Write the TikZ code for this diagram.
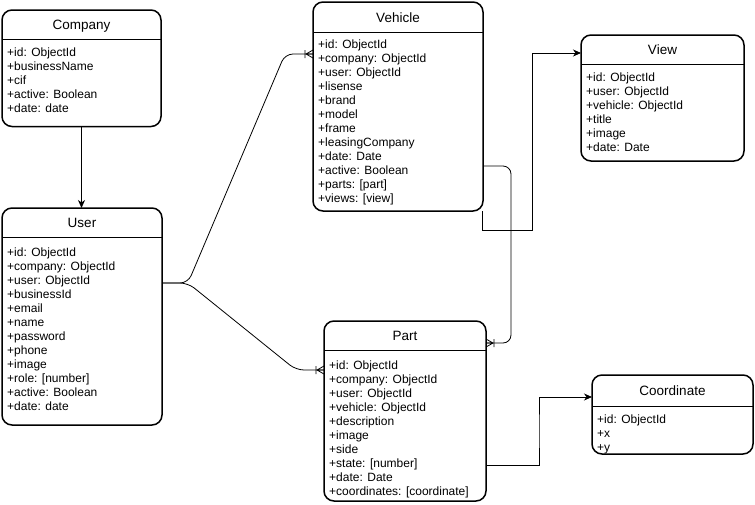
\documentclass[tikz,border=0pt]{standalone}
\usepackage{fontspec}
\setmainfont{Liberation Sans}
\usetikzlibrary{arrows.meta,calc}

\tikzset{
  erbox/.style={draw, line width=1.5pt, rounded corners=10pt, inner sep=0pt, outer sep=0pt},
  ersep/.style={line width=1.5pt},
  ertitle/.style={font=\fontsize{13.5}{16}\selectfont, inner sep=0pt, anchor=base},
  errow/.style={font=\fontsize{12}{14}\selectfont, inner sep=0pt, anchor=base west},
  link/.style={draw, line width=0.8pt},
  arrowlink/.style={link, -{Stealth[length=8pt,width=7pt,inset=2.5pt]}},
  crow/.pic={\draw[line width=0.8pt] (-7,0) -- (0,-4) (-7,0) -- (0,0) (-7,0) -- (0,4) (-8,-4) -- (-8,4);}
}

% #1 name, #2 left, #3 top, #4 right, #5 bottom, #6 header line,
% #7 centre of first attribute row, #8 title, #9 attribute rows
\newcommand\erentity[9]{%
  \node[erbox, anchor=north west, minimum width={#4-#2}, minimum height={#5-#3}] (#1) at (#2,#3) {};
  \draw[ersep] (#2,#6) -- (#4,#6);
  \node[ertitle] (#1-title) at ({(#2+#4)/2},{(#3+#6)/2+5}) {#8};
  \foreach \r [count=\i from 0] in {#9}
    \node[errow] (#1-row\i) at ({#2+5},{#7+4.5+14*\i}) {\r};
}

\begin{document}
\begin{tikzpicture}[x=1pt,y=-1pt]
\useasboundingbox (0,0) rectangle (755,504);

\erentity{company}{2}{10}{161}{126.5}{39.5}{52.3}{Company}%
  {{+id: ObjectId},{+businessName},{+cif},{+active: Boolean},{+date: date}}
\erentity{user}{2}{208}{162}{425}{237.3}{252}{User}%
  {{+id: ObjectId},{+company: ObjectId},{+user: ObjectId},{+businessId},{+email},{+name},{+password},{+phone},{+image},{+role: [number]},{+active: Boolean},{+date: date}}
\erentity{vehicle}{313}{2}{483}{211}{32.3}{43.5}{Vehicle}%
  {{+id: ObjectId},{+company: ObjectId},{+user: ObjectId},{+lisense},{+brand},{+model},{+frame},{+leasingCompany},{+date: Date},{+active: Boolean},{+parts: [part]},{+views: [view]}}
\erentity{view}{581}{35}{744}{161}{64.3}{77.3}{View}%
  {{+id: ObjectId},{+user: ObjectId},{+vehicle: ObjectId},{+title},{+image},{+date: Date}}
\erentity{part}{324}{321}{486}{501}{350.7}{365}{Part}%
  {{+id: ObjectId},{+company: ObjectId},{+user: ObjectId},{+vehicle: ObjectId},{+description},{+image},{+side},{+state: [number]},{+date: Date},{+coordinates: [coordinate]}}
\erentity{coord}{592}{375}{753}{454}{406.7}{418.5}{Coordinate}%
  {{+id: ObjectId},{+x},{+y}}

% connection points
\coordinate (u-out) at ($(user.north east)+(0,75)$);
\coordinate (veh-in) at ($(vehicle.north west)+(0,52)$);
\coordinate (part-in) at ($(part.north west)+(0,49)$);
\coordinate (vv-out) at ($(vehicle.south east)+(-1,0)$);
\coordinate (view-in) at ($(view.north west)+(0,18)$);
\coordinate (vp-out) at ($(vehicle.north east)+(0,164)$);
\coordinate (part-rin) at ($(part.north east)+(0,22)$);
\coordinate (pc-out) at ($(part.north east)+(0,144)$);
\coordinate (coord-in) at ($(coord.north west)+(0,22)$);

% company -> user
\draw[arrowlink] (company.south) -- (company.south |- user.north);

% user -> vehicle, user -> part (one to many)
\draw[link, rounded corners=8pt] (u-out) -- ++(26,0) -- ($(veh-in)+(-28,0)$) -- (veh-in);
\draw[link, rounded corners=8pt] (u-out) -- ++(26,0) -- ($(part-in)+(-28,0)$) -- (part-in);
\pic at (veh-in) {crow};
\pic at (part-in) {crow};

% vehicle -> view
\draw[arrowlink] (vv-out) |- ($(vv-out)+(50,19)$) |- (view-in);

% vehicle -> part (one to many)
\draw[link, rounded corners=8pt] (vp-out) -- ++(28,0) |- (part-rin);
\path pic[xscale=-1] at (part-rin) {crow};

% part -> coordinate
\draw[arrowlink] (pc-out) -| ($(pc-out)!0.5!(coord-in)$) |- (coord-in);
\end{tikzpicture}
\end{document}
